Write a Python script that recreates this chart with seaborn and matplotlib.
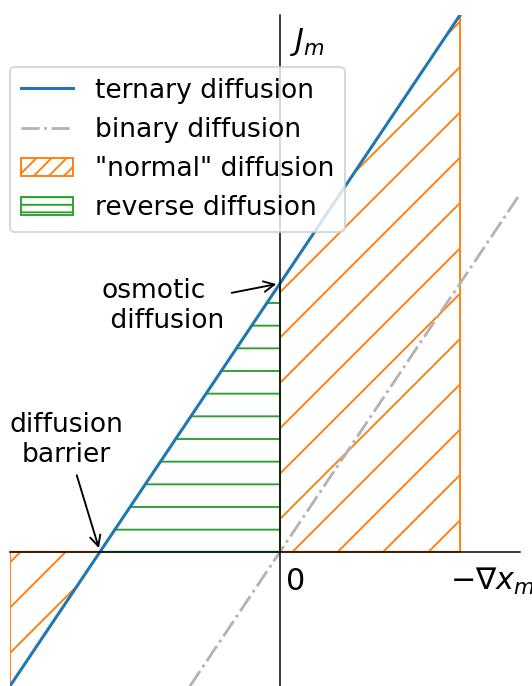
import matplotlib
matplotlib.use('Agg')
import numpy as np
import matplotlib.pyplot as plt
import seaborn as sns
from matplotlib.lines import Line2D
from matplotlib.patches import Patch

# ternary diffusion flux line
grad_ternary = [-1.5, 1.0]
flux_ternary = [-0.5, 2.0]

# binary diffusion flux line
grad_binary = [-0.5, 1.333]
flux_binary = [-0.5, 1.333]

# "normal" diffusion regions (below axis on the left, above axis on the right)
normal_left_x = [-1.5, -1.0]
normal_left_J = [-0.5, 0.0]
normal_right_x = [0.0, 1.0]
normal_right_J = [1.0, 2.0]

# reverse diffusion region
reverse_x = [-1.0, 0.0]
reverse_J = [0.0, 1.0]

DPI = 136
W, H = 532, 686
# extra margin on the left/top, cropped away afterwards (sets the hatch phase)
L, T = 14, 3
fig = plt.figure(figsize=((W + L) / DPI, (H + T) / DPI), dpi=DPI)
ax = fig.add_axes([(L + 10) / (W + L), 0, 510 / (W + L), 671 / (H + T)])

ax.fill_between(normal_left_x, normal_left_J, 0, facecolor='none',
                edgecolor='C1', hatch='/', linewidth=1)
ax.fill_between(normal_right_x, normal_right_J, 0, facecolor='none',
                edgecolor='C1', hatch='/', linewidth=1)
ax.fill_between(reverse_x, reverse_J, 0, facecolor='none',
                edgecolor='C2', hatch='-', linewidth=1)

sns.lineplot(x=grad_binary, y=flux_binary, color='0.7', linestyle='-.',
             linewidth=1.5, ax=ax)
sns.lineplot(x=grad_ternary, y=flux_ternary, color='C0', linewidth=1.6, ax=ax)

ax.set_xlim(-1.5, 1.333)
ax.set_ylim(-0.5, 2.0)

# axes through the origin
for side in ['left', 'bottom']:
    ax.spines[side].set_position(('data', 0))
    ax.spines[side].set_color('black')
    ax.spines[side].set_linewidth(0.8)
ax.spines['top'].set_visible(False)
ax.spines['right'].set_visible(False)
ax.set_xticks([])
ax.set_yticks([])
ax.set_xlabel('')
ax.set_ylabel('')

ax.text(0.089, -0.1416, '0', ha='center', va='baseline', fontsize=16)
ax.text(0.944, -0.1416, r'$-\nabla x_m$', ha='left', va='baseline', fontsize=16)
ax.text(0.055, 1.96, r'$J_m$', ha='left', va='top', fontsize=16)

ax.annotate('osmotic\n diffusion', xy=(0, 1), xytext=(-0.989, 0.915),
            ha='left', va='center', fontsize=14,
            arrowprops=dict(arrowstyle='->', color='black', lw=1))
ax.annotate('diffusion\nbarrier', xy=(-1, 0), xytext=(-1.189, 0.417),
            ha='center', va='center', fontsize=14,
            arrowprops=dict(arrowstyle='->', color='black', lw=1))

handles = [
    Line2D([], [], color='C0', linewidth=1.6, label='ternary diffusion'),
    Line2D([], [], color='0.7', linestyle='-.', linewidth=1.5, label='binary diffusion'),
    Patch(facecolor='none', edgecolor='C1', hatch='///', label='"normal" diffusion'),
    Patch(facecolor='none', edgecolor='C2', hatch='---', label='reverse diffusion'),
]
ax.legend(handles=handles, loc='upper left', bbox_to_anchor=(0, 0.9225),
          borderaxespad=0, fontsize=14)

fig.canvas.draw()
img = np.asarray(fig.canvas.buffer_rgba())[T:T + H, L:L + W]
plt.imsave('out.png', img)
